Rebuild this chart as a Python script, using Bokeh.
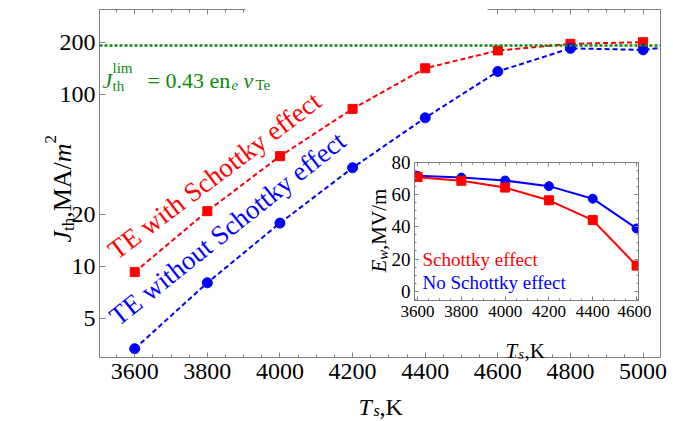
import numpy as np
from bokeh.plotting import figure
from bokeh.layouts import column
from bokeh.models import (Range1d, LinearAxis, SingleIntervalTicker, FixedTicker,
                          BasicTickFormatter, CustomJSTickFormatter, Span, Label)
from bokeh.embed import file_html
from bokeh.resources import INLINE

# ---- main panel data: threshold current density vs surface temperature ----
temps = [3600, 3800, 4000, 4200, 4400, 4600, 4800, 5000]
j_schottky = [9.3, 21.0, 43.8, 82.4, 141.8, 179.8, 196.5, 201.0]
temps_no_schottky = [3600, 3800, 4000, 4200, 4400, 4600, 4800, 5000, 5200]
j_no_schottky = [3.34, 8.06, 17.9, 37.5, 73.1, 135.8, 185.0, 181.4, 201.0]
j_limit = 192
j_ticks = [5, 10, 20, 100, 200]

# ---- inset data: wall electric field ----
inset_temps = [3600, 3800, 4000, 4200, 4400, 4600]
ew_schottky = [70.9, 68.6, 64.4, 56.5, 44.2, 15.9]
inset_temps_no_schottky = [3600, 3800, 4000, 4200, 4400, 4600, 4800]
ew_no_schottky = [71.7, 70.6, 68.8, 65.3, 57.5, 39.0, 4.0]

FONT = "Liberation Serif"
RED = "#ff0000"
BLUE = "#0000ff"
GREEN = "#0c8a0c"
FRAME = "#808080"
INK = "#000000"

PAGE_W, PAGE_H = 673, 421

# both panels of the column get the same borders, so their frames are
# placed on the page purely through the offsets below
BL, BT, BR, BB = 99, 14, 13, 59

# main frame on the page (px)
ML, MT, MW, MH = 99, 9, 561, 348
X0, X1 = 3503, 5048
Y0, Y1 = 2.97, 311
# the top frame edge is drawn in two pieces, open in the middle
TOP_EDGE_PIECES = [(X0, 3905), (4572, X1)]

# inset frame on the page (px)
IL, IT, IW, IH = 414, 162, 224, 138
IX0, IX1 = 3586, 4609
IY0, IY1 = -5.8, 80

BLANK = CustomJSTickFormatter(code="return ''")


def panel(**kw):
    fig = figure(output_backend="svg", toolbar_location=None,
                 min_border_left=BL, min_border_right=BR,
                 min_border_top=BT, min_border_bottom=BB, **kw)
    fig.grid.visible = False
    return fig


def style_axis(ax, label_size, standoff, major_in, minor_in):
    ax.axis_line_color = FRAME
    ax.major_tick_line_color = FRAME
    ax.minor_tick_line_color = FRAME
    ax.major_tick_in = major_in
    ax.major_tick_out = 0
    ax.minor_tick_in = minor_in
    ax.minor_tick_out = 0
    ax.major_label_text_font = FONT
    ax.major_label_text_color = INK
    ax.major_label_standoff = standoff
    ax.major_label_text_font_size = f"{label_size}px"


def tick_only_axis(interval, minor, major_in, minor_in, bounds="auto"):
    ax = LinearAxis(ticker=SingleIntervalTicker(interval=interval,
                                                num_minor_ticks=minor),
                    formatter=BLANK, bounds=bounds)
    style_axis(ax, 1, 0, major_in, minor_in)
    return ax


# ---------------- main panel ----------------
p = panel(frame_width=MW, frame_height=MH,
          x_range=Range1d(X0, X1), y_range=Range1d(Y0, Y1), y_axis_type="log")
p.outline_line_color = None
p.background_fill_color = "white"
p.border_fill_color = "white"

xa = p.xaxis[0]
xa.ticker = SingleIntervalTicker(interval=200, num_minor_ticks=4)
style_axis(xa, 24, 6, 5, 3)

ya = p.yaxis[0]
ya.ticker = FixedTicker(ticks=j_ticks)
ya.formatter = BasicTickFormatter()
style_axis(ya, 24, 4, 6, 0)
ya.minor_tick_line_color = None

for piece in TOP_EDGE_PIECES:
    p.add_layout(tick_only_axis(200, 4, 5, 3, bounds=piece), "above")

right_edge = tick_only_axis(200, 4, 0, 0)
right_edge.major_tick_line_color = None
right_edge.minor_tick_line_color = None
p.add_layout(right_edge, "right")

p.add_layout(Span(location=j_limit, dimension="width", line_color=GREEN,
                  line_width=2.5, line_dash="3 2"))

p.line(temps, j_schottky, line_color=RED, line_width=2, line_dash="5 3")
p.scatter(temps, j_schottky, marker="square", size=9, color=RED)
p.line(temps_no_schottky, j_no_schottky, line_color=BLUE, line_width=2,
       line_dash="5 3")
p.scatter(temps_no_schottky, j_no_schottky, marker="circle", size=10, color=BLUE)
# main panel stays in the normal flow, nudged so its frame top sits at MT
p.styles = {"position": "relative", "top": f"{MT - BT}px"}

# ---------------- inset ----------------
q = panel(frame_width=IW, frame_height=IH,
          x_range=Range1d(IX0, IX1), y_range=Range1d(IY0, IY1))
q.outline_line_color = FRAME
q.background_fill_color = "white"
q.border_fill_color = None

qx = q.xaxis[0]
qx.ticker = SingleIntervalTicker(interval=200, num_minor_ticks=4)
style_axis(qx, 17, 5, 4, 2)
qy = q.yaxis[0]
qy.ticker = SingleIntervalTicker(interval=20, num_minor_ticks=4)
style_axis(qy, 19, 4, 4, 2)

q.add_layout(tick_only_axis(200, 4, 4, 2), "above")
q.add_layout(tick_only_axis(20, 4, 4, 2), "right")

q.line(inset_temps_no_schottky, ew_no_schottky, line_color=BLUE, line_width=2)
q.scatter(inset_temps_no_schottky, ew_no_schottky, marker="circle", size=9,
          color=BLUE)
q.line(inset_temps, ew_schottky, line_color=RED, line_width=2)
q.scatter(inset_temps, ew_schottky, marker="square", size=9, color=RED)
q.styles = {"position": "absolute",
            "left": f"{IL - BL}px", "top": f"{IT - BT}px"}

# ---------------- text layer, data units = page pixels ----------------
# a separate root, so its frame is not aligned with the panels above
t = figure(frame_width=PAGE_W, frame_height=PAGE_H,
           x_range=Range1d(0, PAGE_W), y_range=Range1d(0, PAGE_H),
           x_axis_location=None, y_axis_location=None,
           output_backend="svg", toolbar_location=None,
           min_border=0, min_border_left=0, min_border_right=0,
           min_border_top=0, min_border_bottom=0)
t.grid.visible = False
t.outline_line_color = None
t.background_fill_color = None
t.border_fill_color = None
t.styles = {"position": "absolute", "left": "0px", "top": "0px"}


def put(cx, cy, text, size, color=INK, style="normal", angle=0.0,
        align="left", baseline="alphabetic"):
    t.add_layout(Label(x=cx, y=PAGE_H - cy, text=text, text_font=FONT,
                       text_font_size=f"{size}px", text_font_style=style,
                       text_color=color, angle=angle, text_align=align,
                       text_baseline=baseline))


# limit formula: J_th^lim = 0.43 en_e v_Te
put(102, 80, "J", 22, GREEN, "italic")
put(112, 67, "lim", 15, GREEN)
put(112, 85, "th", 15, GREEN)
put(147, 80, "= 0.43 en", 22, GREEN)
put(231, 84, "e", 15, GREEN, "italic")
put(243, 80, "v", 22, GREEN, "italic")
put(255, 84, "Te", 15, GREEN)

# curve captions
put(214, 175, "TE with Schottky effect", 27, RED,
    angle=np.radians(37), align="center", baseline="middle")
put(227, 228, "TE without Schottky effect", 27, BLUE,
    angle=np.radians(38.5), align="center", baseline="middle")

# main axis titles
put(358, 406, "T", 24, INK, "italic")
put(373, 410, "s", 16, INK, "italic")
put(379, 406, ",K", 24, INK)

rot = np.pi / 2
put(62, 242, "J", 26, INK, "italic", angle=rot)
put(68, 230.5, "th", 17, INK, angle=rot)
put(62, 217.3, ",MA/", 26, INK, angle=rot)
put(62, 161.7, "m", 26, INK, "italic", angle=rot)
put(50, 142.9, "2", 17, INK, angle=rot)

# inset legend and titles
put(422, 259, "Schottky effect", 19, RED)
put(422, 282, "No Schottky effect", 19, BLUE)

put(505, 350, "T", 21, INK, "italic")
put(518, 354, "s", 14, INK, "italic")
put(524, 350, ",K", 21, INK)

put(378, 272, "E", 21, INK, "italic", angle=rot)
put(382, 259.2, "w", 15, INK, "italic", angle=rot)
put(378, 249.4, ",MV/m", 21, INK, angle=rot)

panels = column(p, q)
open("out.html", "w").write(file_html([panels, t], INLINE))
